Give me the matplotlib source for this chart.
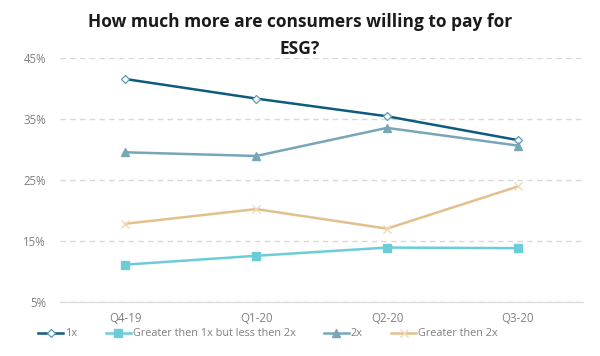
import matplotlib
matplotlib.use("Agg")
import matplotlib.pyplot as plt
from matplotlib.ticker import FuncFormatter

plt.rcParams['font.family'] = ['Open Sans', 'DejaVu Sans']

categories = ["Q4-19", "Q1-20", "Q2-20", "Q3-20"]
series_names = ["1x", "Greater then 1x but less then 2x", "2x", "Greater then 2x"]
v_1x = [41.5, 38.3, 35.4, 31.5]
v_1x_2x = [11.1, 12.55, 13.9, 13.8]
v_2x = [29.5, 28.9, 33.5, 30.6]
v_gt2x = [17.8, 20.2, 17.0, 23.9]
yticks = [5, 15, 25, 35, 45]

colors = ["#0D5C7D", "#6CCDD8", "#77A6B9", "#E2C08E"]
markers = ["D", "s", "^", "x"]

fig = plt.figure(figsize=(6, 3.56), dpi=100)
ax = fig.add_axes([0.1, 0.152, 0.872, 0.686])
x = list(range(len(categories)))
for vals, name, c, m in zip([v_1x, v_1x_2x, v_2x, v_gt2x], series_names, colors, markers):
    if m == "D":
        ax.plot(x, vals, color=c, lw=1.8, marker=m, ms=4, mfc="white", mec="#5B9BB5", mew=0.9, label=name)
    elif m == "x":
        ax.plot(x, vals, color=c, lw=1.8, marker=m, ms=6, mec="#F0D9B8", mew=1.0, label=name)
    else:
        ax.plot(x, vals, color=c, lw=1.8, marker=m, ms=5.5, label=name)

ax.set_xlim(-0.5, 3.5)
ax.set_ylim(5, 45)
ax.set_yticks(yticks)
ax.yaxis.set_major_formatter(FuncFormatter(lambda v, p: f"{v:.0f}%"))
ax.set_xticks(x)
ax.set_xticklabels(categories)
ax.grid(axis="y", color="#D9D9D9", ls=(0, (4, 3)), lw=1)
ax.set_axisbelow(True)
for s in ["top", "right", "left"]:
    ax.spines[s].set_visible(False)
ax.spines["bottom"].set_color("#D9D9D9")
ax.tick_params(axis="both", length=0, colors="#808080", labelsize=8.3)
ax.tick_params(axis="y", pad=10)
ax.tick_params(axis="x", pad=7)

fig.text(0.5, 0.9, "How much more are consumers willing to pay for\nESG?", ha="center", va="center",
         fontsize=12.5, fontweight="bold", color="#1A1A1A", linespacing=1.6)

leg = fig.legend(loc="center", bbox_to_anchor=(0.447, 0.062), ncol=4, frameon=False, fontsize=7.8,
                 handlelength=2.3, columnspacing=2.6, handletextpad=0.2)
for t in leg.get_texts():
    t.set_color("#808080")

fig.savefig("out.png", dpi=100)
